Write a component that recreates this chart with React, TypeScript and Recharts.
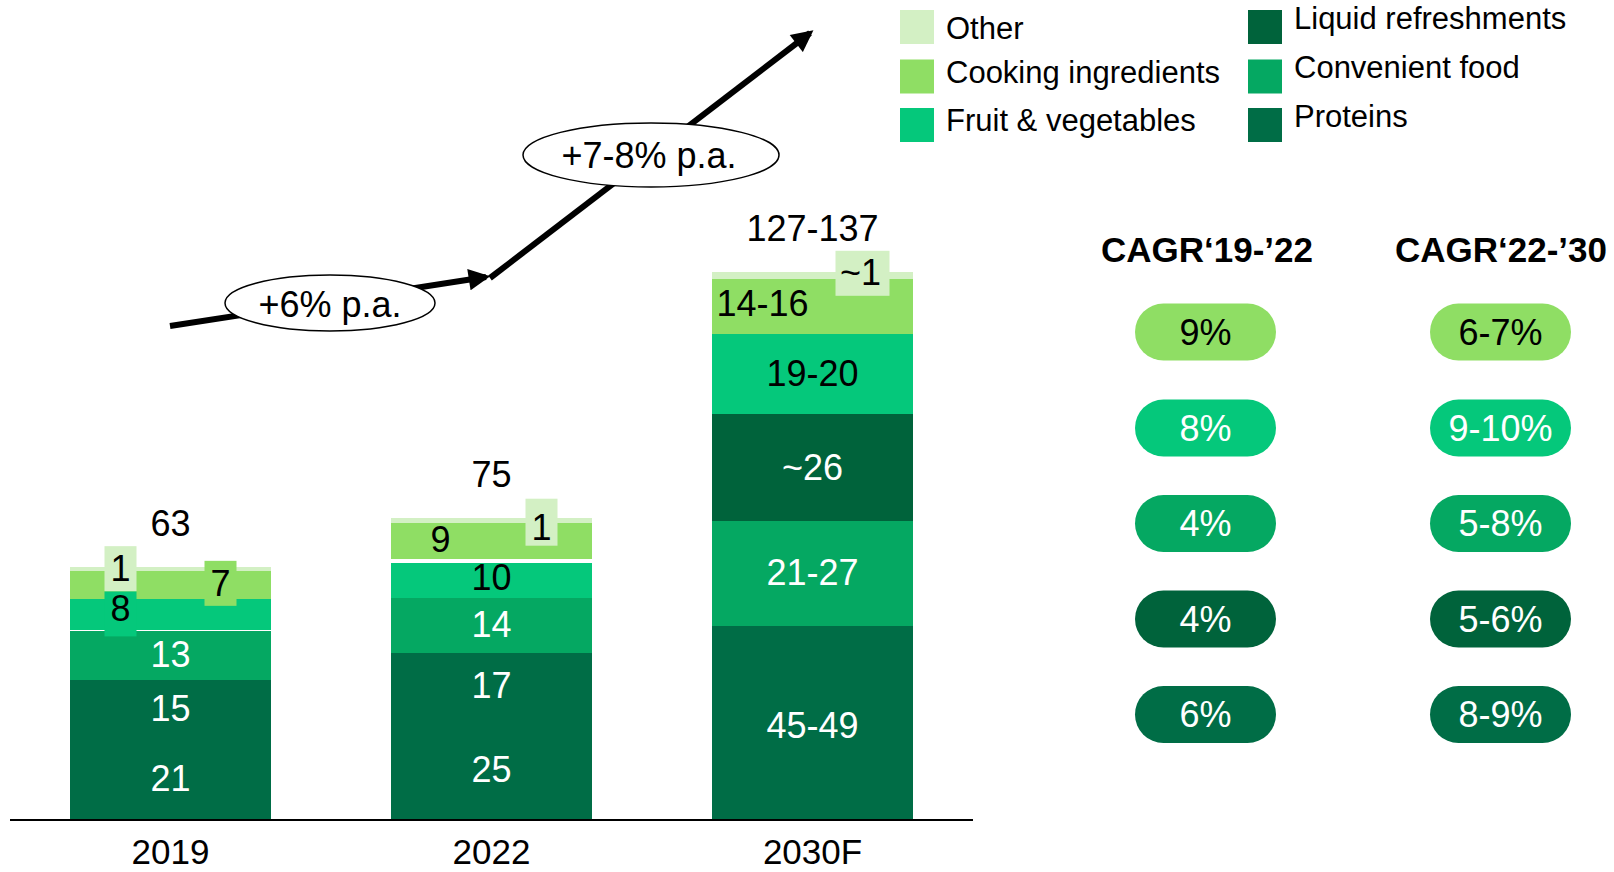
import React from 'react';
import { BarChart, Bar, XAxis, YAxis, LabelList } from 'recharts';

const categories = ['2019', '2022', '2030F'];
const proteins = [20.5, 25, 48.5];
const liquidRefreshments = [14.5, 16.7, 26.5];
const convenientFood = [12.4, 13.7, 26];
const fruitVegetables = [7.7, 9.7, 20];
const cookingIngredients = [7, 9, 13.7];
const other = [0.8, 0.9, 1.5];
// in 2030F the liquid block sits above convenient food
const liquidOnTopOfConvenient = [false, false, true];

const proteinsLabels = ['21', '25', '45-49'];
const liquidLabels = ['15', '17', '~26'];
const convenientLabels = ['13', '14', '21-27'];
const fruitLabels = ['8', '10', '19-20'];
const cookingLabels = ['7', '9', '14-16'];
const otherLabels = ['1', '1', '~1'];
const totalLabels = ['63', '75', '127-137'];

const growthLabels = ['+6% p.a.', '+7-8% p.a.'];

const cagrHeaders = ['CAGR\u201819-\u201922', 'CAGR\u201822-\u201930'];
const cagr1922 = ['9%', '8%', '4%', '4%', '6%'];
const cagr2230 = ['6-7%', '9-10%', '5-8%', '5-6%', '8-9%'];

const legendLeft = ['Other', 'Cooking ingredients', 'Fruit & vegetables'];
const legendRight = ['Liquid refreshments', 'Convenient food', 'Proteins'];

const C = {
  other: '#d3f0c4',
  cooking: '#8fde64',
  fruit: '#05c87b',
  convenient: '#05a862',
  liquid: '#00633b',
  proteins: '#006d46',
};

const FONT = '"Liberation Sans", Arial, sans-serif';

const rows = categories.map((category, i) => ({
  category,
  proteins: proteins[i],
  liquidLow: liquidOnTopOfConvenient[i] ? 0 : liquidRefreshments[i],
  convenient: convenientFood[i],
  liquidHigh: liquidOnTopOfConvenient[i] ? liquidRefreshments[i] : 0,
  fruit: fruitVegetables[i],
  cooking: cookingIngredients[i],
  other: other[i],
}));

// white separators drawn at the top of some segments
const topGaps: Record<string, number> = { 'convenient-0': 2, 'fruit-1': 5 };

type LabelOpt = { dx: number; dy: number; box?: { w: number; h: number; fill: string; dx: number; dy: number } };
const labelOpts: Record<string, LabelOpt> = {
  'proteins-2': { dx: 0, dy: 3 },
  'other-0': { dx: -50, dy: 0, box: { w: 32, h: 45, fill: C.other, dx: 0, dy: 0 } },
  'fruit-0': { dx: -50, dy: -5, box: { w: 32, h: 45, fill: C.fruit, dx: 0, dy: 5 } },
  'cooking-0': { dx: 50, dy: -1, box: { w: 32, h: 45, fill: C.cooking, dx: 0, dy: 0 } },
  'other-1': { dx: 50, dy: 7, box: { w: 32, h: 47, fill: C.other, dx: 0, dy: -5 } },
  'cooking-1': { dx: -51, dy: -1 },
  'cooking-2': { dx: -50, dy: -2 },
  'other-2': { dx: 48, dy: -3, box: { w: 54, h: 45, fill: C.other, dx: 2, dy: 1 } },
};

function boxOf(props: any) {
  const vb = props.viewBox ?? props;
  const x = Number(vb.x ?? props.x);
  const y = Number(vb.y ?? props.y);
  const w = Number(vb.width ?? props.width);
  const h = Number(vb.height ?? props.height);
  let i = props.index;
  if (i === undefined) i = Math.round((x - 70) / 321);
  return { x, y: h < 0 ? y + h : y, w, h: Math.abs(h), i };
}

const segmentShape = (key: string) => (props: any) => {
  const { x, y, width, height, fill, index } = props;
  if (!height || height <= 0) return <g />;
  const gap = topGaps[`${key}-${index}`] ?? 0;
  return (
    <g shapeRendering="crispEdges">
      <rect x={x} y={y} width={width} height={height + 0.6} fill={fill} />
      {gap > 0 && <rect x={x} y={y} width={width} height={gap} fill="#fff" />}
    </g>
  );
};

const segmentLabel = (key: string, texts: string[], color: string) => (props: any) => {
  const { x, y, w, h, i } = boxOf(props);
  if (!h || h < 0.5) return null;
  const opt = labelOpts[`${key}-${i}`] ?? { dx: 0, dy: 0 };
  const cx = x + w / 2 + opt.dx;
  const cy = y + h / 2 + opt.dy;
  return (
    <g>
      {opt.box && (
        <rect
          x={cx + opt.box.dx - opt.box.w / 2}
          y={cy + opt.box.dy - opt.box.h / 2}
          width={opt.box.w}
          height={opt.box.h}
          fill={opt.box.fill}
        />
      )}
      <text x={cx} y={cy} textAnchor="middle" dominantBaseline="central" fontSize={36} fill={color} fontFamily={FONT}>
        {texts[i]}
      </text>
    </g>
  );
};

const totalLabel = (props: any) => {
  const { x, y, w, i } = boxOf(props);
  return (
    <text x={x + w / 2} y={y - 44} textAnchor="middle" dominantBaseline="central" fontSize={36} fill="#000" fontFamily={FONT}>
      {totalLabels[i]}
    </text>
  );
};

function Overlay() {
  const pillRows = [332, 428, 523.5, 619, 714.5];
  const pillFills = [C.cooking, C.fruit, C.convenient, C.liquid, C.proteins];
  const pillText = ['#000', '#fff', '#fff', '#fff', '#fff'];
  const legendRowsY = [27, 76.5, 125];
  const leftTextY = [28, 72, 120.5];
  const rightTextY = [18.5, 67, 116];
  const leftColors = [C.other, C.cooking, C.fruit];
  const rightColors = [C.liquid, C.convenient, C.proteins];
  return (
    <svg width={1614} height={872} style={{ position: 'absolute', left: 0, top: 0, pointerEvents: 'none' }}>
      <defs>
        <marker id="head" viewBox="0 0 10 10" refX="8" refY="5" markerWidth="4" markerHeight="3.6" orient="auto">
          <path d="M0,0 L10,5 L0,10 z" fill="#000" />
        </marker>
      </defs>
      {/* growth arrows */}
      <line x1={170} y1={326} x2={486} y2={277} stroke="#000" strokeWidth={6} markerEnd="url(#head)" />
      <line x1={490} y1={278} x2={810} y2={33} stroke="#000" strokeWidth={6} markerEnd="url(#head)" />
      <ellipse cx={330} cy={303} rx={105} ry={28} fill="#fff" stroke="#000" strokeWidth={1.5} />
      <text x={330} y={304} textAnchor="middle" dominantBaseline="central" fontSize={36} fontFamily={FONT}>
        {growthLabels[0]}
      </text>
      <ellipse cx={651} cy={155} rx={128} ry={32} fill="#fff" stroke="#000" strokeWidth={1.5} />
      <text x={649} y={155} textAnchor="middle" dominantBaseline="central" fontSize={36} fontFamily={FONT}>
        {growthLabels[1]}
      </text>

      {/* legend */}
      {legendLeft.map((name, i) => (
        <g key={name}>
          <rect x={900} y={legendRowsY[i] - 17} width={34} height={34} fill={leftColors[i]} />
          <text x={946} y={leftTextY[i]} dominantBaseline="central" fontSize={31} fontFamily={FONT}>
            {name}
          </text>
        </g>
      ))}
      {legendRight.map((name, i) => (
        <g key={name}>
          <rect x={1248} y={legendRowsY[i] - 17} width={34} height={34} fill={rightColors[i]} />
          <text x={1294} y={rightTextY[i]} dominantBaseline="central" fontSize={31} fontFamily={FONT}>
            {name}
          </text>
        </g>
      ))}

      {/* CAGR columns */}
      {cagrHeaders.map((h, k) => (
        <text key={h} x={k === 0 ? 1207 : 1501} y={249} textAnchor="middle" dominantBaseline="central" fontSize={35} fontWeight="bold" fontFamily={FONT}>
          {h}
        </text>
      ))}
      {pillRows.map((cy, i) => (
        <g key={i}>
          {[cagr1922[i], cagr2230[i]].map((v, k) => {
            const cx = k === 0 ? 1205.5 : 1500.5;
            return (
              <g key={k}>
                <rect x={cx - 70.5} y={cy - 28.5} width={141} height={57} rx={28.5} fill={pillFills[i]} />
                <text x={cx} y={cy} textAnchor="middle" dominantBaseline="central" fontSize={36} fill={pillText[i]} fontFamily={FONT}>
                  {v}
                </text>
              </g>
            );
          })}
        </g>
      ))}
    </svg>
  );
}

export default function App() {
  return (
    <div style={{ position: 'absolute', left: 0, top: 0, width: 1614, height: 872, background: '#fff', fontFamily: FONT }}>
      <BarChart width={1614} height={872} data={rows} margin={{ top: 257, right: 641, bottom: 0, left: 10 }} barSize={201}>
        <XAxis
          dataKey="category"
          height={52}
          axisLine={{ stroke: '#000', strokeWidth: 2 }}
          tickLine={false}
          tickSize={0}
          tickMargin={19}
          tick={{ fontSize: 35, fill: '#000', fontFamily: FONT }}
        />
        <YAxis hide domain={[0, 140]} />
        <Bar dataKey="proteins" stackId="s" fill={C.proteins} shape={segmentShape('proteins')} isAnimationActive={false}>
          <LabelList dataKey="proteins" content={segmentLabel('proteins', proteinsLabels, '#fff')} />
        </Bar>
        <Bar dataKey="liquidLow" stackId="s" fill={C.proteins} shape={segmentShape('liquidLow')} isAnimationActive={false}>
          <LabelList dataKey="liquidLow" content={segmentLabel('liquidLow', liquidLabels, '#fff')} />
        </Bar>
        <Bar dataKey="convenient" stackId="s" fill={C.convenient} shape={segmentShape('convenient')} isAnimationActive={false}>
          <LabelList dataKey="convenient" content={segmentLabel('convenient', convenientLabels, '#fff')} />
        </Bar>
        <Bar dataKey="liquidHigh" stackId="s" fill={C.liquid} shape={segmentShape('liquidHigh')} isAnimationActive={false}>
          <LabelList dataKey="liquidHigh" content={segmentLabel('liquidHigh', liquidLabels, '#fff')} />
        </Bar>
        <Bar dataKey="fruit" stackId="s" fill={C.fruit} shape={segmentShape('fruit')} isAnimationActive={false}>
          <LabelList dataKey="fruit" content={segmentLabel('fruit', fruitLabels, '#000')} />
        </Bar>
        <Bar dataKey="cooking" stackId="s" fill={C.cooking} shape={segmentShape('cooking')} isAnimationActive={false}>
          <LabelList dataKey="cooking" content={segmentLabel('cooking', cookingLabels, '#000')} />
        </Bar>
        <Bar dataKey="other" stackId="s" fill={C.other} shape={segmentShape('other')} isAnimationActive={false}>
          <LabelList dataKey="other" content={segmentLabel('other', otherLabels, '#000')} />
          <LabelList dataKey="other" content={totalLabel} />
        </Bar>
      </BarChart>
      <Overlay />
    </div>
  );
}
